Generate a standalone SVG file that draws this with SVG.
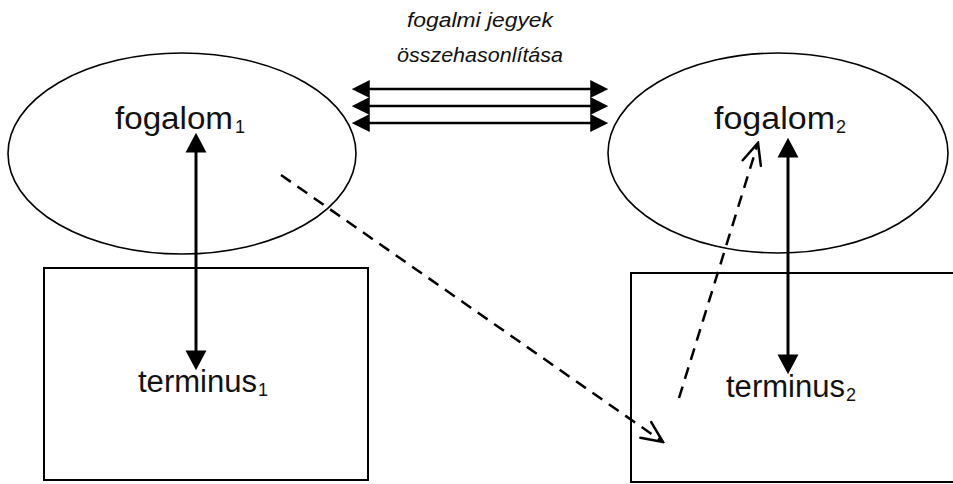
<svg xmlns="http://www.w3.org/2000/svg" width="953" height="484" viewBox="0 0 953 484">
  <style>
    .shape { fill: none; stroke: #000; }
    .ell { stroke-width: 1.6; }
    .box { stroke-width: 2; }
    .lbl { font-family: "Liberation Sans", Arial, sans-serif; font-size: 31px; fill: #111; }
    .sub { font-family: "Liberation Sans", Arial, sans-serif; font-size: 18px; fill: #111; }
    .cap { font-family: "Liberation Sans", Arial, sans-serif; font-size: 20px; font-style: italic; fill: #111; text-anchor: middle; }
    .solid { stroke: #000; stroke-width: 3; fill: none; }
    .triple { stroke: #000; stroke-width: 2.5; fill: none; }
    .dash { stroke: #000; stroke-width: 2.5; fill: none; stroke-dasharray: 12 8; }
  </style>
  <defs>
    <marker id="head" markerUnits="userSpaceOnUse" markerWidth="20" markerHeight="22" viewBox="0 -10 18 20" refX="6" refY="0" orient="auto-start-reverse">
      <path d="M0,-9.5 L18,0 L0,9.5 Z" fill="#000"/>
    </marker>
    <marker id="headSmall" markerUnits="userSpaceOnUse" markerWidth="18" markerHeight="18" viewBox="0 -8 16 16" refX="6" refY="0" orient="auto-start-reverse">
      <path d="M0,-8 L16,0 L0,8 Z" fill="#000"/>
    </marker>
    <marker id="open" markerUnits="userSpaceOnUse" markerWidth="26" markerHeight="26" viewBox="-24 -12 26 24" refX="0" refY="0" orient="auto">
      <path d="M-21,-9.5 L0,0 L-21,9.5" fill="none" stroke="#000" stroke-width="2.5" stroke-linecap="round" stroke-linejoin="miter"/>
    </marker>
  </defs>

  <g id="fogalom1">
    <ellipse class="shape ell" cx="182" cy="153.5" rx="174" ry="100.5"/>
    <text class="lbl" x="115" y="129" textLength="118" lengthAdjust="spacingAndGlyphs">fogalom</text>
    <text class="sub" x="235" y="133">1</text>
  </g>

  <g id="fogalom2">
    <ellipse class="shape ell" cx="778" cy="153" rx="170" ry="100"/>
    <text class="lbl" x="714" y="129" textLength="121" lengthAdjust="spacingAndGlyphs">fogalom</text>
    <text class="sub" x="836" y="133">2</text>
  </g>

  <g id="terminus1">
    <rect class="shape box" x="44" y="268" width="324" height="212"/>
    <text class="lbl" x="138" y="392" textLength="119" lengthAdjust="spacingAndGlyphs">terminus</text>
    <text class="sub" x="258" y="396">1</text>
  </g>

  <g id="terminus2">
    <rect class="shape box" x="631" y="273" width="340" height="209"/>
    <text class="lbl" x="726" y="397" textLength="119" lengthAdjust="spacingAndGlyphs">terminus</text>
    <text class="sub" x="846" y="401">2</text>
  </g>

  <g id="caption">
    <text class="cap" x="480" y="27" textLength="146" lengthAdjust="spacingAndGlyphs">fogalmi jegyek</text>
    <text class="cap" x="480" y="62" textLength="166" lengthAdjust="spacingAndGlyphs">összehasonlítása</text>
  </g>

  <g id="connectors">
    <line class="solid" x1="196" y1="146" x2="196" y2="357" marker-start="url(#head)" marker-end="url(#head)"/>
    <line class="solid" x1="788" y1="151" x2="788" y2="361" marker-start="url(#head)" marker-end="url(#head)"/>
    <line class="triple" x1="363" y1="89" x2="597" y2="89" marker-start="url(#headSmall)" marker-end="url(#headSmall)"/>
    <line class="triple" x1="363" y1="106" x2="597" y2="106" marker-start="url(#headSmall)" marker-end="url(#headSmall)"/>
    <line class="triple" x1="363" y1="123" x2="597" y2="123" marker-start="url(#headSmall)" marker-end="url(#headSmall)"/>
    <line class="dash" x1="281" y1="175" x2="663" y2="442" marker-end="url(#open)"/>
    <line class="dash" x1="679" y1="398" x2="758" y2="143" marker-end="url(#open)"/>
  </g>
</svg>
